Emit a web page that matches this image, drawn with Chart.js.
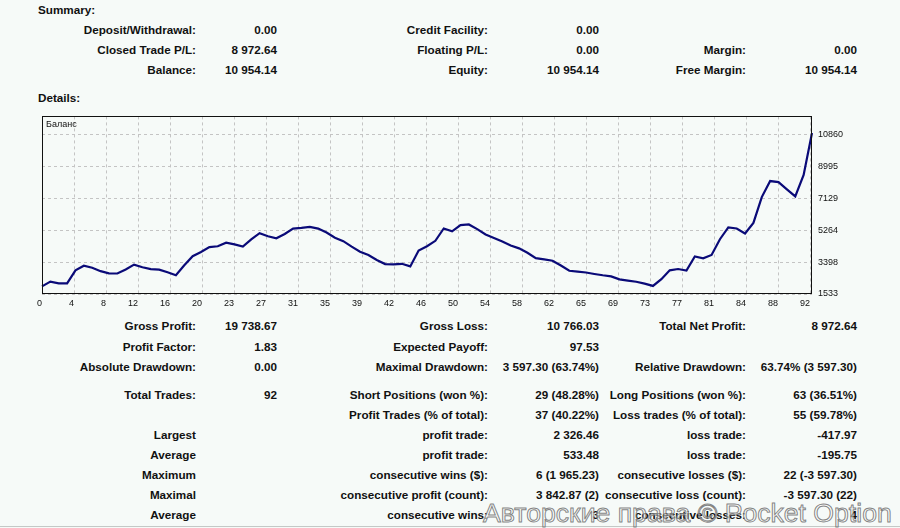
<!DOCTYPE html>
<html><head><meta charset="utf-8">
<script src="https://cdn.jsdelivr.net/npm/chart.js@4/dist/chart.umd.min.js"></script>
<style>
html,body{margin:0;padding:0;background:#f6faf8;}
body{width:900px;height:528px;position:relative;overflow:hidden;font-family:"Liberation Sans",Arial,sans-serif;color:#111;}
.c{position:absolute;font-weight:bold;font-size:11.7px;line-height:14px;white-space:nowrap;text-align:right;}
.h{position:absolute;left:38px;font-weight:bold;font-size:11.7px;line-height:14px;}
#wrap{position:absolute;left:0;top:105px;width:900px;height:210px;}
#bal{position:absolute;left:46px;top:118px;font-size:9px;line-height:12px;color:#111;z-index:2;}
#rule{position:absolute;left:0;top:526px;width:900px;height:1px;background:#c4c8c6;}
#wm{position:absolute;left:483px;top:500px;font-size:26.6px;line-height:26.6px;white-space:nowrap;color:rgba(255,255,255,0.55);-webkit-text-stroke:1px rgba(110,110,110,0.85);z-index:3;}
</style></head>
<body>
<div class="h" style="top:3px">Summary:</div>
<div class="h" style="top:91px">Details:</div>
<div id="wrap"><canvas id="chart" width="900" height="210"></canvas></div>
<div id="bal">Баланс</div>
<div id="rule"></div>
<div id="wm">Авторские права © Pocket Option</div>
<script>
// ---- chart data ----
const tradeNumbers = [0,1,2,3,4,5,6,7,8,9,10,11,12,13,14,15,16,17,18,19,20,21,22,23,24,25,26,27,28,29,30,31,32,33,34,35,36,37,38,39,40,41,42,43,44,45,46,47,48,49,50,51,52,53,54,55,56,57,58,59,60,61,62,63,64,65,66,67,68,69,70,71,72,73,74,75,76,77,78,79,80,81,82,83,84,85,86,87,88,89,90,91,92];
const balance = [1981,2256,2151,2151,2920,3188,3066,2868,2745,2734,
  2967,3253,3095,2990,2955,2804,2629,3212,3748,3987,
  4278,4325,4535,4436,4308,4727,5095,4914,4797,5048,
  5363,5398,5462,5363,5130,4826,4628,4308,4010,3818,
  3521,3282,3264,3299,3148,4074,4325,4646,5369,5199,
  5567,5602,5328,5019,4815,4605,4372,4203,3946,3631,
  3561,3480,3200,2891,2845,2792,2705,2629,2565,2390,
  2320,2250,2139,2005,2402,2920,2996,2909,3725,3626,
  3818,4739,5433,5369,5077,5695,7205,8143,8080,7660,
  7250,8500,10954];
const xTickLabels = ['0','4','8','12','16','20','23','27','31','35','39','42','46','50','54','58','62','65','69','73','77','81','84','88','92'];
const yTickValues = [1533,3398,5264,7129,8995,10860];

// ---- report text ----
const summaryRows = [
  [30, ['Deposit/Withdrawal:','0.00'], ['Credit Facility:','0.00'], null],
  [50, ['Closed Trade P/L:','8 972.64'], ['Floating P/L:','0.00'], ['Margin:','0.00']],
  [70, ['Balance:','10 954.14'], ['Equity:','10 954.14'], ['Free Margin:','10 954.14']]
];
const detailRows = [
  [326, ['Gross Profit:','19 738.67'], ['Gross Loss:','10 766.03'], ['Total Net Profit:','8 972.64']],
  [347, ['Profit Factor:','1.83'], ['Expected Payoff:','97.53'], null],
  [367, ['Absolute Drawdown:','0.00'], ['Maximal Drawdown:','3 597.30 (63.74%)'], ['Relative Drawdown:','63.74% (3 597.30)']],
  [395, ['Total Trades:','92'], ['Short Positions (won %):','29 (48.28%)'], ['Long Positions (won %):','63 (36.51%)']],
  [415, null, ['Profit Trades (% of total):','37 (40.22%)'], ['Loss trades (% of total):','55 (59.78%)']],
  [435, ['Largest',''], ['profit trade:','2 326.46'], ['loss trade:','-417.97']],
  [455, ['Average',''], ['profit trade:','533.48'], ['loss trade:','-195.75']],
  [475, ['Maximum',''], ['consecutive wins ($):','6 (1 965.23)'], ['consecutive losses ($):','22 (-3 597.30)']],
  [495, ['Maximal',''], ['consecutive profit (count):','3 842.87 (2)'], ['consecutive loss (count):','-3 597.30 (22)']],
  [515, ['Average',''], ['consecutive wins:','3'], ['consecutive losses:','4']]
];
const colEdges = [[196,277],[488,599],[746,857]];

function addCell(text, right, yc){
  if(!text) return;
  const d=document.createElement('div');
  d.className='c';
  d.style.right=(900-right)+'px';
  d.style.top=(yc-7)+'px';
  d.textContent=text;
  document.body.appendChild(d);
}
[...summaryRows, ...detailRows].forEach(r=>{
  const yc=r[0];
  for(let i=0;i<3;i++){
    const cell=r[i+1]; if(!cell) continue;
    addCell(cell[0], colEdges[i][0], yc);
    addCell(cell[1], colEdges[i][1], yc);
  }
});

// ---- chart ----
const framePlugin = {
  id:'frame',
  afterDatasetsDraw(chart){
    const a=chart.chartArea, c=chart.ctx;
    c.save(); c.strokeStyle='#111'; c.lineWidth=1;
    c.strokeRect(Math.round(a.left)+0.5, Math.round(a.top)+0.5, Math.round(a.right-a.left)-1, Math.round(a.bottom-a.top)-1);
    c.restore();
  }
};
const tickFont = {family:'"Liberation Sans", Arial, sans-serif', size:9};
new Chart(document.getElementById('chart'), {
  type:'line',
  data:{
    labels: tradeNumbers,
    datasets:[{
      data: balance,
      borderColor:'#0a0a78',
      borderWidth:2.2,
      pointRadius:0,
      tension:0,
      fill:false,
      xAxisID:'x', yAxisID:'y'
    }]
  },
  options:{
    responsive:false,
    animation:false,
    events:[],
    layout:{padding:{left:42, top:10, right:0, bottom:0}},
    plugins:{legend:{display:false}, tooltip:{enabled:false}, title:{display:false}},
    scales:{
      x:{type:'category', display:false, offset:false, position:'bottom'},
      xg:{
        type:'linear', position:'bottom', min:0, max:24.06,
        afterBuildTicks(s){ s.ticks = xTickLabels.map((l,i)=>({value:i})); },
        afterFit(s){ s.height = 21; },
        ticks:{ autoSkip:false, maxRotation:0, align:'end', padding:4, color:'#111', font:tickFont,
          callback:(v,i)=>xTickLabels[i] },
        grid:{ color:'#c4c4c4', drawTicks:false, lineWidth:1 },
        border:{ display:false, dash:[3,3] }
      },
      y:{
        type:'linear', position:'right', min:1533, max:11926,
        afterBuildTicks(s){ s.ticks = yTickValues.map(v=>({value:v})); },
        afterFit(s){ s.width = 88; },
        ticks:{ padding:6, color:'#111', font:tickFont, callback:(v)=>String(v) },
        grid:{ color:'#c4c4c4', drawTicks:false, lineWidth:1 },
        border:{ display:false, dash:[3,3] }
      }
    }
  },
  plugins:[framePlugin]
});
</script>
</body></html>
